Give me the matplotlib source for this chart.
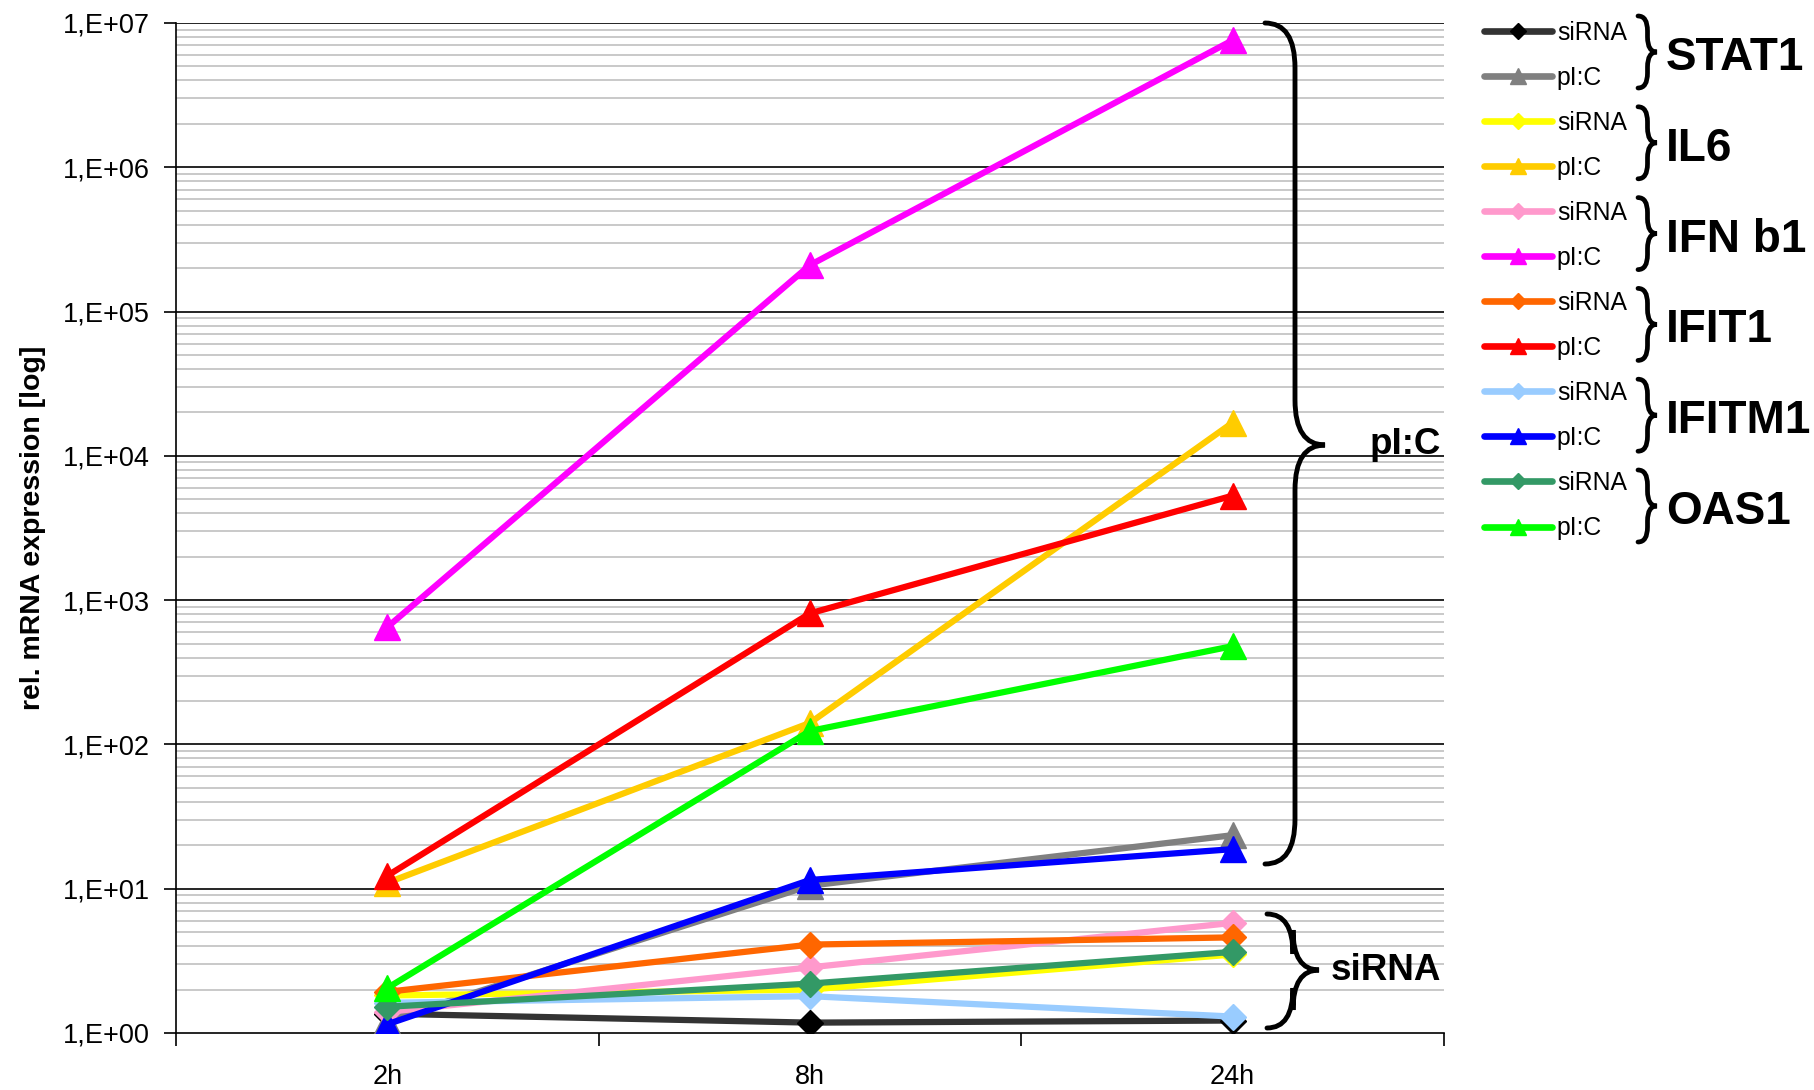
import matplotlib
matplotlib.use('Agg')
import matplotlib.pyplot as plt
from matplotlib.path import Path
from matplotlib.patches import PathPatch
from matplotlib.lines import Line2D
import numpy as np

plt.rcParams['font.family'] = ['Liberation Sans', 'DejaVu Sans']

times = ['2h', '8h', '24h']
genes = ['STAT1', 'IL6', 'IFN b1', 'IFIT1', 'IFITM1', 'OAS1']

# values (rel. mRNA expression)
sirna_stat1 = [1.36, 1.18, 1.22]
pic_stat1 = [1.22, 10.5, 23.5]
sirna_il6 = [1.82, 2.0, 3.5]
pic_il6 = [11.0, 141, 17000]
sirna_ifnb1 = [1.4, 2.85, 5.8]
pic_ifnb1 = [650, 210000, 7.6e6]
sirna_ifit1 = [1.93, 4.1, 4.6]
pic_ifit1 = [12.3, 810, 5300]
sirna_ifitm1 = [1.62, 1.8, 1.3]
pic_ifitm1 = [1.15, 11.5, 18.8]
sirna_oas1 = [1.52, 2.2, 3.65]
pic_oas1 = [2.05, 124, 480]

series = [
    (sirna_stat1, '#333333', 'D', 'black', 'siRNA'),
    (pic_stat1, '#808080', '^', '#808080', 'pI:C'),
    (sirna_il6, '#FFFF00', 'D', '#FFFF00', 'siRNA'),
    (pic_il6, '#FFCC00', '^', '#FFCC00', 'pI:C'),
    (sirna_ifnb1, '#FF99CC', 'D', '#FF99CC', 'siRNA'),
    (pic_ifnb1, '#FF00FF', '^', '#FF00FF', 'pI:C'),
    (sirna_ifit1, '#FF6600', 'D', '#FF6600', 'siRNA'),
    (pic_ifit1, '#FF0000', '^', '#FF0000', 'pI:C'),
    (sirna_ifitm1, '#99CCFF', 'D', '#99CCFF', 'siRNA'),
    (pic_ifitm1, '#0000FF', '^', '#0000FF', 'pI:C'),
    (sirna_oas1, '#339966', 'D', '#339966', 'siRNA'),
    (pic_oas1, '#00FF00', '^', '#00FF00', 'pI:C'),
]

W, H = 1814, 1090
fig = plt.figure(figsize=(W / 100, H / 100), dpi=100)
ax = fig.add_axes([176 / W, 1 - 1033 / H, (1444 - 176) / W, (1033 - 23) / H])

x = np.arange(len(times)) + 0.5
handles = []
for vals, col, mk, mcol, lab in series:
    ms = 19 if mk == '^' else 13
    ax.plot(x, vals, color=col, lw=4.5, marker=mk, ms=ms, mfc=mcol, mec=mcol,
            solid_joinstyle='round', solid_capstyle='round', zorder=3)
    handles.append(Line2D([], [], color=col, lw=4.8, marker=mk, ms=ms * 0.62,
                          mfc=mcol, mec=mcol, solid_capstyle='round'))

ax.set_yscale('log')
ax.set_ylim(1, 1e7)
ax.set_xlim(0, 3)

# gridlines like the spreadsheet: black decades, grey minor steps
for d in range(7):
    for k in range(2, 10):
        ax.axhline(k * 10 ** d, color='#c0c0c0', lw=1.2, zorder=1)
for d in range(1, 8):
    ax.axhline(10 ** d, color='black', lw=1.2, zorder=1)

ax.set_yticks([10 ** d for d in range(8)])
ax.set_yticklabels(['1,E+0%d' % d for d in range(8)], fontsize=19.5)
ax.yaxis.set_minor_locator(matplotlib.ticker.NullLocator())
ax.tick_params(axis='y', length=9, width=1.2, pad=10)

ax.set_xticks([0, 1, 2, 3])
ax.set_xticklabels([])
ax.set_xticks(x, minor=True)
ax.set_xticklabels(times, minor=True, fontsize=19.5)
ax.tick_params(axis='x', which='major', length=9, width=1.2)
ax.tick_params(axis='x', which='minor', length=0, pad=22)

for s in ['top', 'right']:
    ax.spines[s].set_visible(False)
for s in ['left', 'bottom']:
    ax.spines[s].set_linewidth(1.2)

ax.set_ylabel('rel. mRNA expression [log]', fontsize=20.5, fontweight='bold', labelpad=12)


def brace(x0, ytop, ybot, w, r, ymid=None, lw=3.5):
    # curly brace opening to the left, pixel coords from top-left
    if ymid is None:
        ymid = (ytop + ybot) / 2
    xm = x0 + w * 0.5
    pts = [(x0, ytop), (xm, ytop), (xm, ytop + r), (xm, ymid - r),
           (xm, ymid), (x0 + w, ymid), (xm, ymid), (xm, ymid + r),
           (xm, ybot - r), (xm, ybot), (x0, ybot)]
    codes = [Path.MOVETO, Path.CURVE3, Path.CURVE3, Path.LINETO,
             Path.CURVE3, Path.CURVE3, Path.CURVE3, Path.CURVE3,
             Path.LINETO, Path.CURVE3, Path.CURVE3]
    pts = [(px / W, 1 - py / H) for px, py in pts]
    fig.patches.append(PathPatch(Path(pts, codes), fill=False, lw=lw,
                                 color='black', transform=fig.transFigure,
                                 capstyle='round'))


brace(1265, 23, 864, 60, 45, ymid=445)
fig.text(1441 / W, 1 - 445 / H, 'pI:C', fontsize=26.5, fontweight='bold',
         ha='right', va='center')
brace(1267, 914, 1028, 52, 40, ymid=970)
fig.text(1441 / W, 1 - 970 / H, 'siRNA', fontsize=26.5, fontweight='bold',
         ha='right', va='center')

labels = [s[4] for s in series]
fig.legend(handles, labels, loc='upper left', bbox_to_anchor=(1484 / W, 1 - 21 / H),
           frameon=False, fontsize=17.8, handlelength=2.75, handletextpad=0.2,
           labelspacing=0.85, borderpad=0, borderaxespad=0)

for i, g in enumerate(genes):
    yc = 52 + i * 90.8
    brace(1638, yc - 36, yc + 36, 19, 15, lw=3.4)
    fig.text(1666 / W, 1 - (yc + 18) / H, g, fontsize=33, fontweight='bold',
             ha='left', va='baseline')

fig.savefig('out.png', dpi=100)
